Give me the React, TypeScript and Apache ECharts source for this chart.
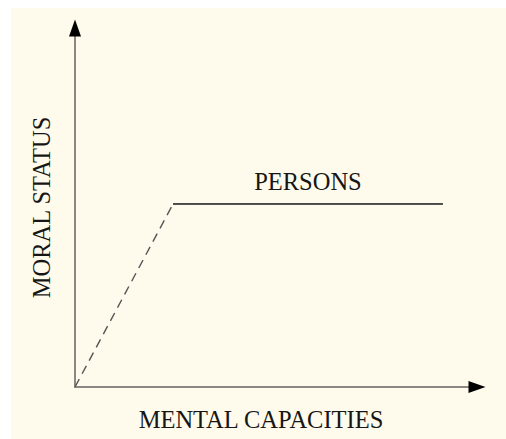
import React, { useEffect, useRef } from "react";
import * as echarts from "echarts";

// Data (abstract units 0..100)
const mentalCapacity = [0, 24.4, 91.5];
const moralStatus = [0, 51, 51];
const xTitle = "MENTAL CAPACITIES";
const yTitle = "MORAL STATUS";
const plateauLabel = "PERSONS";

const FONT = "'Liberation Serif', 'Times New Roman', serif";
const FS = 24.5;
const TXT = "#161616";

export default function App() {
  const ref = useRef<HTMLDivElement>(null);
  useEffect(() => {
    if (!ref.current) return;
    const chart = echarts.init(ref.current, undefined, { renderer: "svg" });
    const gray = "#8c8782";
    const baseAxis = {
      type: "value",
      min: 0,
      max: 100,
      splitLine: { show: false },
      axisTick: { show: false },
      axisLabel: { show: false },
    };
    const ramp = [
      [mentalCapacity[0], moralStatus[0]],
      [mentalCapacity[1], moralStatus[1]],
    ];
    const plateau = [
      [mentalCapacity[1], moralStatus[1]],
      [mentalCapacity[2], moralStatus[2]],
    ];
    chart.setOption({
      animation: false,
      backgroundColor: "transparent",
      grid: { left: 75, right: 29, top: 28, bottom: 52 },
      xAxis: [
        {
          ...baseAxis,
          position: "bottom",
          axisLine: { show: true, lineStyle: { color: gray, width: 2 } },
          name: xTitle,
          nameLocation: "middle",
          nameGap: 20,
          nameTextStyle: {
            fontFamily: FONT,
            fontSize: FS,
            color: TXT,
            padding: [0, 30, 0, 0],
          },
        },
        {
          ...baseAxis,
          position: "bottom",
          axisLine: {
            show: true,
            symbol: ["none", "triangle"],
            symbolSize: [12, 17],
            lineStyle: { color: "#000", width: 0 },
          },
        },
      ],
      yAxis: [
        {
          ...baseAxis,
          position: "left",
          axisLine: { show: true, lineStyle: { color: gray, width: 2 } },
          name: yTitle,
          nameLocation: "middle",
          nameGap: 21,
          nameTextStyle: { fontFamily: FONT, fontSize: FS, color: TXT },
        },
        {
          ...baseAxis,
          position: "left",
          axisLine: {
            show: true,
            symbol: ["none", "triangle"],
            symbolSize: [12, 17],
            lineStyle: { color: "#000", width: 0 },
          },
        },
      ],
      series: [
        {
          type: "line",
          xAxisIndex: 0,
          yAxisIndex: 0,
          data: ramp,
          symbol: "none",
          lineStyle: { color: "#555", width: 1.4, type: [9, 6] },
        },
        {
          type: "line",
          xAxisIndex: 0,
          yAxisIndex: 0,
          data: plateau,
          symbol: "none",
          lineStyle: { color: "#4a4a4a", width: 1.6 },
          markLine: {
            silent: true,
            symbol: "none",
            lineStyle: { color: "#4a4a4a", width: 1.6, type: "solid" },
            label: {
              show: true,
              position: "insideMiddleTop",
              formatter: plateauLabel,
              distance: 10,
              fontFamily: FONT,
              fontSize: FS,
              color: TXT,
            },
            data: [
              [
                { coord: plateau[0] },
                { coord: plateau[1] },
              ],
            ],
          },
        },
      ],
    });
    return () => chart.dispose();
  }, []);
  return (
    <div
      style={{
        position: "fixed",
        left: 0,
        top: 0,
        width: 506,
        height: 439,
        background: "#ffffff",
      }}
    >
      <div
        style={{
          position: "absolute",
          left: 11,
          top: 8,
          right: 0,
          bottom: 0,
          background: "#fefbec",
        }}
      />
      <div
        ref={ref}
        style={{ position: "absolute", left: 0, top: 0, width: 506, height: 439 }}
      />
    </div>
  );
}
